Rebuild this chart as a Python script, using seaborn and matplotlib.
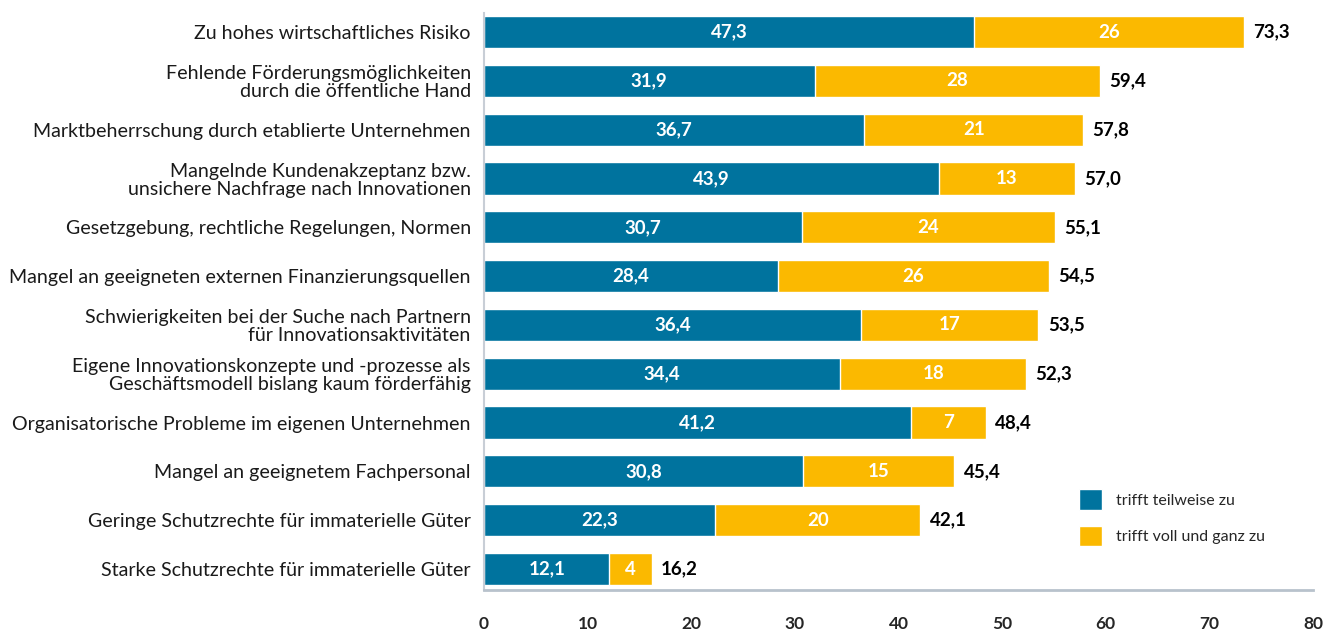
import numpy as np
import pandas as pd
import matplotlib
matplotlib.use('Agg')
import matplotlib.pyplot as plt
import seaborn as sns
from matplotlib.patches import Patch

## DATEN
kategorien = [
    'Zu hohes wirtschaftliches Risiko',
    'Fehlende Förderungsmöglichkeiten\ndurch die öffentliche Hand',
    'Marktbeherrschung durch etablierte Unternehmen',
    'Mangelnde Kundenakzeptanz bzw.\nunsichere Nachfrage nach Innovationen',
    'Gesetzgebung, rechtliche Regelungen, Normen',
    'Mangel an geeigneten externen Finanzierungsquellen',
    'Schwierigkeiten bei der Suche nach Partnern\nfür Innovationsaktivitäten',
    'Eigene Innovationskonzepte und -prozesse als\nGeschäftsmodell bislang kaum förderfähig',
    'Organisatorische Probleme im eigenen Unternehmen',
    'Mangel an geeignetem Fachpersonal',
    'Geringe Schutzrechte für immaterielle Güter',
    'Starke Schutzrechte für immaterielle Güter',
]
teilweise = [47.3, 31.9, 36.7, 43.9, 30.7, 28.4, 36.4, 34.4, 41.2, 30.8, 22.3, 12.1]
voll_label = ['26', '28', '21', '13', '24', '26', '17', '18', '7', '15', '20', '4']
gesamt = [73.3, 59.4, 57.8, 57.0, 55.1, 54.5, 53.5, 52.3, 48.4, 45.4, 42.1, 16.2]
x_ticks = [0, 10, 20, 30, 40, 50, 60, 70, 80]

blau = '#00739e'
gelb = '#fbb900'

df = pd.DataFrame({'kategorie': kategorien, 'teilweise': teilweise, 'gesamt': gesamt})

sns.set_style('white')
plt.rcParams['font.family'] = ['Lato', 'DejaVu Sans']

fig = plt.figure(figsize=(13.37, 6.32), dpi=100)
ax = fig.add_axes([484 / 1337, 1 - 590 / 632, (1313 - 484) / 1337, (590 - 13) / 632])

sns.barplot(data=df, y='kategorie', x='gesamt', color=gelb, orient='h',
            width=0.66, saturation=1, ax=ax)
sns.barplot(data=df, y='kategorie', x='teilweise', color=blau, orient='h',
            width=0.66, saturation=1, ax=ax)

for i in range(len(kategorien)):
    ax.text(teilweise[i] / 2, i, f'{teilweise[i]:.1f}'.replace('.', ','),
            color='white', ha='center', va='center', fontsize=13.5, fontweight='bold')
    ax.text((teilweise[i] + gesamt[i]) / 2, i, voll_label[i],
            color='white', ha='center', va='center', fontsize=13.5, fontweight='bold')
    ax.text(gesamt[i] + 0.9, i, f'{gesamt[i]:.1f}'.replace('.', ','),
            color='black', ha='left', va='center', fontsize=13.5, fontweight='bold')

ax.set_xlim(0, 80)
ax.set_ylim(11.43, -0.39)
ax.set_xticks(x_ticks)
ax.set_xticklabels([str(t) for t in x_ticks], fontsize=12.5, fontweight='bold')
ax.set_yticks(range(len(kategorien)))
ax.set_yticklabels(kategorien, fontsize=14.1, color='#1a1a1a', linespacing=1.05)
ax.set_xlabel('')
ax.set_ylabel('')
ax.tick_params(axis='x', length=0, pad=18.5)
ax.tick_params(axis='y', length=0, pad=9.5)

for s in ['top', 'right']:
    ax.spines[s].set_visible(False)
ax.spines['left'].set_color('#c8ced6')
ax.spines['left'].set_linewidth(1.5)
ax.spines['bottom'].set_color('#b8c2cc')
ax.spines['bottom'].set_linewidth(2)

handles = [Patch(facecolor=blau, label='trifft teilweise zu'),
           Patch(facecolor=gelb, label='trifft voll und ganz zu')]
ax.legend(handles=handles, loc='upper left', bbox_to_anchor=(0.718, 0.175),
          frameon=False, fontsize=11.5, handlelength=1.4, handleheight=1.6,
          labelspacing=1.0, handletextpad=0.9, borderaxespad=0, borderpad=0)

plt.savefig('out.png', dpi=100)
